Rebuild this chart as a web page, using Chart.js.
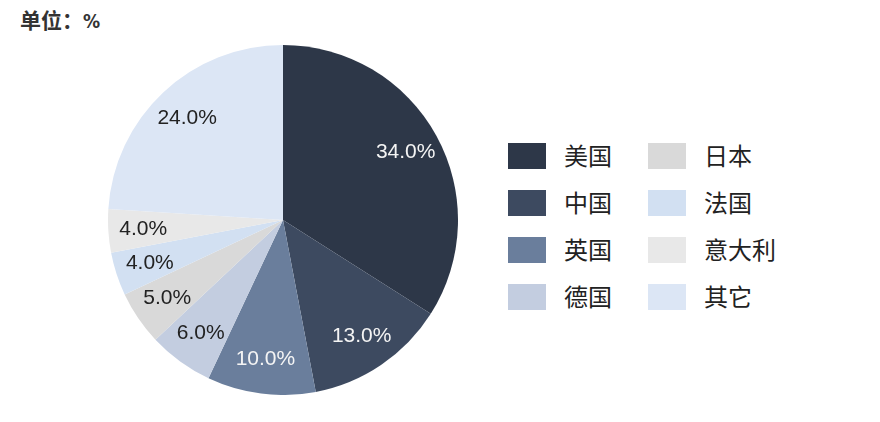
<!DOCTYPE html>
<html>
<head>
<meta charset="utf-8">
<script src="https://cdn.jsdelivr.net/npm/chart.js@4/dist/chart.umd.min.js"></script>
<style>
  body { margin: 0; background: #fff; width: 880px; height: 422px; position: relative; overflow: hidden; }
  #title { position: absolute; left: 20px; top: 4px; font: bold 21px "Noto Sans CJK SC", sans-serif; color: #333; }
  #title span { font: bold 19px "Liberation Sans Narrow", "DejaVu Sans Condensed", sans-serif; }
  #wrap { position: absolute; left: 108px; top: 45px; width: 350px; height: 350px; }
  #legend { position: absolute; left: 0; top: 0; }
  .item { position: absolute; height: 26px; }
  .box { position: absolute; left: 0; top: 0; width: 38px; height: 26px; }
  .lab { position: absolute; left: 56px; top: -6px; font: 24px "Noto Sans CJK SC", sans-serif; color: #222; white-space: nowrap; }
</style>
</head>
<body>
<div id="title">单位：<span>%</span></div>
<div id="wrap"><canvas id="grafica"></canvas></div>
<div id="legend"></div>
<script>
// Pie chart - share by country

const paises = ["美国", "中国", "英国", "德国", "日本", "法国", "意大利", "其它"];
const valores = [34.0, 13.0, 10.0, 6.0, 5.0, 4.0, 4.0, 24.0];
const colores = ["#2d3748", "#3d4a60", "#6a7e9c", "#c3cde0", "#d9d9d9", "#d2e0f2", "#e8e8e8", "#dce6f5"];
const colorTexto = ["#f4f4f4", "#f4f4f4", "#f4f4f4", "#222222", "#222222", "#222222", "#222222", "#222222"];

// labels inside slices
const etiquetas = {
    id: "etiquetas",
    afterDatasetsDraw(chart) {
        let ctx = chart.ctx;
        let meta = chart.getDatasetMeta(0);
        ctx.save();
        ctx.font = "21px 'Liberation Sans', Arial, sans-serif";
        ctx.textAlign = "center";
        ctx.textBaseline = "middle";
        meta.data.forEach(function (arc, i) {
            let p = arc.getProps(["x", "y", "startAngle", "endAngle", "outerRadius"], true);
            let a = (p.startAngle + p.endAngle) / 2;
            let r = p.outerRadius * 0.8;
            ctx.fillStyle = colorTexto[i];
            ctx.fillText(valores[i].toFixed(1) + "%", p.x + Math.cos(a) * r, p.y + Math.sin(a) * r);
        });
        ctx.restore();
    }
};

function load_pie() {
    let ctx = document.getElementById("grafica");
    let myChart = new Chart(ctx, {
        type: "pie",
        data: {
            labels: paises,
            datasets: [{
                data: valores,
                backgroundColor: colores,
                borderWidth: 0
            }]
        },
        options: {
            responsive: true,
            maintainAspectRatio: false,
            animation: false,
            layout: { padding: 0 },
            plugins: {
                legend: { display: false },
                tooltip: { enabled: false }
            }
        },
        plugins: [etiquetas]
    });
}

function load_legend() {
    let leg = document.getElementById("legend");
    for (let i = 0; i < paises.length; i++) {
        let col = Math.floor(i / 4);
        let row = i % 4;
        let it = document.createElement("div");
        it.className = "item";
        it.style.left = (508 + col * 140) + "px";
        it.style.top = (143 + row * 47) + "px";
        it.innerHTML = '<div class="box" style="background:' + colores[i] + '"></div><div class="lab">' + paises[i] + '</div>';
        leg.appendChild(it);
    }
}

load_pie();
load_legend();
</script>
</body>
</html>
